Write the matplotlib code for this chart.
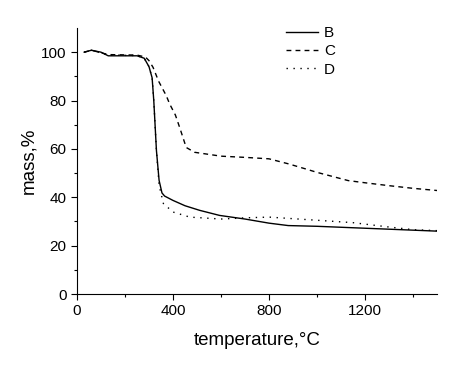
import numpy as np
import matplotlib
matplotlib.use("Agg")
import matplotlib.pyplot as plt

plt.rcParams['font.family'] = ['Liberation Sans', 'DejaVu Sans']

# sample B
t_b = [30, 60, 100, 130, 250, 280, 300, 313, 320, 331, 342, 354, 365, 400, 450, 511, 594, 700, 800, 880, 1000, 1200, 1400, 1500]
m_b = [100, 100.8, 100, 98.5, 98.5, 97.5, 94, 89.4, 79.8, 59.3, 47, 41.8, 40.5, 38.7, 36.5, 34.6, 32.5, 31, 29.3, 28.3, 28, 27.2, 26.4, 26]
# sample C
t_c = [30, 60, 130, 250, 285, 300, 317, 340, 372, 386, 410, 428, 455, 490, 600, 700, 800, 882, 950, 1000, 1130, 1200, 1300, 1400, 1500]
m_c = [100, 100.8, 99, 98.8, 98, 96.5, 93.7, 88, 82, 78.6, 74, 68.8, 60.6, 58.6, 57, 56.5, 55.9, 53.8, 51.8, 50.3, 46.9, 46, 44.8, 43.7, 42.8]
# sample D
t_d = [30, 60, 130, 250, 280, 300, 313, 320, 331, 342, 360, 400, 470, 600, 700, 800, 1000, 1150, 1300, 1400, 1500]
m_d = [100, 100.8, 98.8, 98.6, 97.5, 94, 89.4, 79.8, 59.3, 45, 37.4, 33.9, 31.8, 31, 31.5, 31.8, 30.5, 29.5, 27.7, 26.6, 26.2]

fig = plt.figure(figsize=(4.65, 3.66), dpi=100)
ax = fig.add_axes([0.1656, 0.1967, 0.7742, 0.7268])

ax.plot(t_b, m_b, color='black', lw=1.0, ls='-', label='B')
ax.plot(t_c, m_c, color='black', lw=1.0, ls=(0, (3.5, 3)), label='C')
ax.plot(t_d, m_d, color='black', lw=1.0, ls=(0, (1, 4)), label='D')

ax.set_xlim(0, 1500)
ax.set_ylim(0, 110)
ax.set_xticks([0, 400, 800, 1200])
ax.set_xticks([200, 600, 1000, 1400], minor=True)
ax.set_yticks([0, 20, 40, 60, 80, 100])
ax.set_yticks([10, 30, 50, 70, 90], minor=True)
ax.tick_params(axis='both', which='major', direction='out', length=4, width=0.8, labelsize=11)
ax.tick_params(axis='both', which='minor', direction='out', length=2.5, width=0.8)
ax.spines['top'].set_visible(False)
ax.spines['right'].set_visible(False)

ax.set_xlabel('temperature,°C', fontsize=13.5, labelpad=10)
ax.set_ylabel('mass,%', fontsize=13.5, labelpad=3)

ax.legend(loc='upper left', bbox_to_anchor=(0.615, 0.929), bbox_transform=fig.transFigure,
          frameon=False, fontsize=11, handlelength=2.1, handletextpad=0.4,
          labelspacing=0.28, borderpad=0, borderaxespad=0)

fig.savefig('out.png', dpi=100)
